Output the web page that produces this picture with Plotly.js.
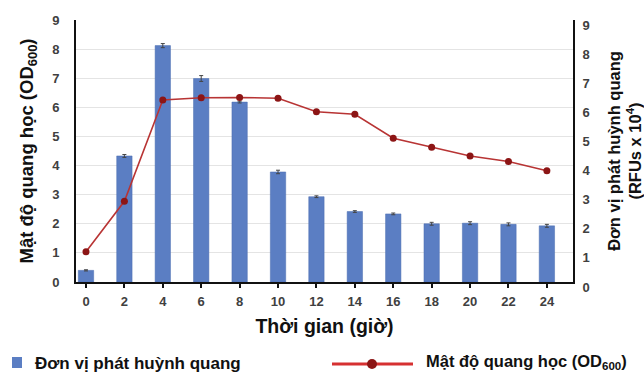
<!DOCTYPE html>
<html>
<head>
<meta charset="utf-8">
<script src="https://cdn.plot.ly/plotly-3.0.1.min.js"></script>
<style>html,body{margin:0;padding:0;background:#fff;}#chart{width:644px;height:372px;}</style>
</head>
<body>
<div id="chart"></div>
<script>
// Data
const hours = [0, 2, 4, 6, 8, 10, 12, 14, 16, 18, 20, 22, 24];
const fluorescence = [0.40, 4.33, 8.12, 6.99, 6.18, 3.78, 2.93, 2.42, 2.34, 2.00, 2.02, 1.98, 1.93];
const fluorescenceErr = [0.02, 0.05, 0.07, 0.10, 0.03, 0.06, 0.03, 0.03, 0.03, 0.05, 0.05, 0.05, 0.05];
const od600 = [1.04, 2.77, 6.25, 6.33, 6.34, 6.31, 5.85, 5.76, 4.94, 4.63, 4.33, 4.14, 3.82];
const yTicks = [0, 1, 2, 3, 4, 5, 6, 7, 8, 9];

const FONT = 'Liberation Sans, Arial, sans-serif';
const W = 644, H = 372;
const M = {l: 76, r: 71, t: 20, b: 90};
const pw = W - M.l - M.r, ph = H - M.t - M.b;
const px = x => (x - M.l) / pw;
const py = y => (H - M.b - y) / ph;

const bars = {
  type: 'bar', x: hours, y: fluorescence, yaxis: 'y', width: 0.8,
  name: 'Đơn vị phát huỳnh quang',
  marker: {color: '#5b7ec3', line: {color: '#4a6db0', width: 0.5}},
  error_y: {type: 'data', array: fluorescenceErr, visible: true, color: '#444', thickness: 1, width: 2},
  showlegend: false
};
const line = {
  type: 'scatter', mode: 'lines+markers', x: hours, y: od600, yaxis: 'y2',
  name: 'Mật độ quang học (OD600)',
  line: {color: '#b83434', width: 1.6},
  marker: {color: '#8c1515', size: 7},
  showlegend: false
};

const tickFont = {family: FONT, size: 13, color: '#404040', weight: 'bold'};

const layout = {
  width: W, height: H,
  margin: M,
  paper_bgcolor: '#fff', plot_bgcolor: '#fff',
  showlegend: false,
  bargap: 0,
  xaxis: {
    type: 'linear', range: [-0.52, 25.36], tickvals: hours, ticktext: hours.map(String),
    showgrid: false, zeroline: false, showline: true, linecolor: '#111', linewidth: 2,
    ticks: 'outside', ticklen: 4, tickwidth: 2, tickcolor: '#111',
    tickfont: tickFont, ticklabelstandoff: 2,
    title: {text: 'Thời gian (giờ)', font: {family: FONT, size: 19.5, color: '#111', weight: 'bold'}, standoff: 12}
  },
  xaxis2: {
    overlaying: 'x', anchor: 'y', side: 'bottom', matches: 'x', range: [-0.52, 25.36],
    tickvals: hours, showticklabels: false, showgrid: false, zeroline: false, showline: false,
    ticks: 'inside', ticklen: 4, tickwidth: 2, tickcolor: '#111'
  },
  yaxis: {
    range: [0, 9], tickvals: yTicks, showgrid: true, gridcolor: '#e4e4e4', gridwidth: 1,
    zeroline: false, showline: true, linecolor: '#111', linewidth: 2,
    ticks: '', tickfont: tickFont, ticklabelstandoff: 12,
    title: {text: 'Mật độ quang học (OD<sub>600</sub>)', font: {family: FONT, size: 18.5, color: '#111', weight: 'bold'}, standoff: 14}
  },
  yaxis2: {
    range: [0, 9], tickvals: yTicks, overlaying: 'y', side: 'right', anchor: 'x',
    showgrid: false, zeroline: false, showline: true, linecolor: '#111', linewidth: 2,
    ticks: '', tickfont: tickFont, ticklabelstandoff: 5, ticklabelshift: 5,
    title: {text: 'Đơn vị phát huỳnh quang<br>(RFUs x 10<sup>4</sup>)', font: {family: FONT, size: 16.5, color: '#111', weight: 'bold'}, standoff: 30}
  },
  shapes: [
    {type: 'rect', xref: 'paper', yref: 'paper', x0: px(12), x1: px(22), y0: py(368), y1: py(357),
     fillcolor: '#5b7ec3', line: {width: 0}},
    {type: 'line', xref: 'paper', yref: 'paper', x0: px(332), x1: px(413), y0: py(364), y1: py(364),
     line: {color: '#d63031', width: 3}},
    {type: 'circle', xref: 'paper', yref: 'paper', x0: px(367), x1: px(377), y0: py(369), y1: py(359),
     fillcolor: '#8c1515', line: {color: '#8c1515', width: 0}}
  ],
  annotations: [
    {xref: 'paper', yref: 'paper', x: px(33), y: py(363), xanchor: 'left', yanchor: 'middle', showarrow: false,
     text: 'Đơn vị phát huỳnh quang', font: {family: FONT, size: 17, color: '#111', weight: 'bold'}},
    {xref: 'paper', yref: 'paper', x: px(424), y: py(362), xanchor: 'left', yanchor: 'middle', showarrow: false,
     text: 'Mật độ quang học (OD<sub>600</sub>)', font: {family: FONT, size: 16.5, color: '#111', weight: 'bold'}}
  ]
};

Plotly.newPlot('chart', [bars, line], layout, {displayModeBar: false, staticPlot: true});
</script>
</body>
</html>
